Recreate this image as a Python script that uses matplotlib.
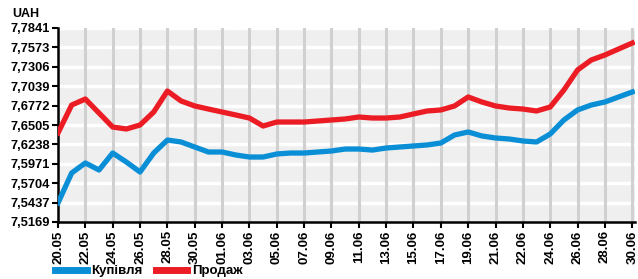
import matplotlib.pyplot as plt
from matplotlib.lines import Line2D

# tick labels (one label every second point)
dates = ["20.05", "22.05", "24.05", "26.05", "28.05", "30.05", "01.06", "03.06",
         "05.06", "07.06", "09.06", "11.06", "13.06", "15.06", "17.06", "19.06",
         "21.06", "22.06", "24.06", "26.06", "28.06", "30.06"]

yticks = [7.5169, 7.5437, 7.5704, 7.5971, 7.6238, 7.6505, 7.6772, 7.7039,
          7.7306, 7.7573, 7.7841]

buy = [7.5431, 7.5844, 7.5982, 7.5885, 7.6119, 7.5995, 7.5858, 7.6119, 7.6298,
       7.6271, 7.6202, 7.6133, 7.6133, 7.6092, 7.6064, 7.6064, 7.6106, 7.6119,
       7.6119, 7.6133, 7.6147, 7.6174, 7.6174, 7.6160, 7.6188, 7.6202, 7.6216,
       7.6230, 7.6257, 7.6367, 7.6409, 7.6354, 7.6326, 7.6312, 7.6285, 7.6271,
       7.6381, 7.6574, 7.6712, 7.6780, 7.6822, 7.6891, 7.6960]

sell = [7.6395, 7.6780, 7.6863, 7.6670, 7.6477, 7.6450, 7.6505, 7.6684, 7.6973,
        7.6836, 7.6767, 7.6725, 7.6684, 7.6643, 7.6601, 7.6491, 7.6546, 7.6546,
        7.6546, 7.6560, 7.6574, 7.6588, 7.6615, 7.6601, 7.6601, 7.6615, 7.6657,
        7.6698, 7.6712, 7.6767, 7.6891, 7.6822, 7.6767, 7.6739, 7.6725, 7.6698,
        7.6753, 7.6987, 7.7263, 7.7400, 7.7469, 7.7552, 7.7634]

BLUE = "#0a8fd6"
RED = "#ec1c24"
FONT = ["Liberation Sans", "DejaVu Sans"]

fig = plt.figure(figsize=(6.38, 2.79), dpi=100)
ax = fig.add_axes([58 / 638, 1 - 222 / 279, 577 / 638, 194 / 279])
ax.set_facecolor("#efefef")

x = list(range(len(buy)))
ax.plot(x, buy, color=BLUE, lw=3.8, solid_joinstyle="round", zorder=3)
ax.plot(x, sell, color=RED, lw=3.8, solid_joinstyle="round", zorder=3)

ax.set_xlim(0, 42.2)
ax.set_ylim(yticks[0], yticks[-1])

ax.set_xticks(range(0, 43, 2))
ax.set_xticklabels(dates, rotation=90, fontfamily=FONT, fontweight="bold", fontsize=9.5)
ax.set_yticks(yticks)
ax.set_yticklabels([f"{v:.4f}".replace(".", ",") for v in yticks],
                   fontfamily=FONT, fontweight="bold", fontsize=9.3)

for v in yticks[1:]:
    ax.axhline(v, color="white", lw=2.5, zorder=1)
for t in range(2, 43, 2):
    ax.axvline(t, color="#d0d0d0", lw=2.2, zorder=2)

for s in ["top", "right"]:
    ax.spines[s].set_visible(False)
for s in ["left", "bottom"]:
    ax.spines[s].set_linewidth(1.8)
ax.tick_params(axis="both", length=4, width=1.5, pad=2)

fig.text(12 / 638, 1 - 14 / 279, "UAH", fontfamily=FONT, fontweight="bold",
         fontsize=9, va="center", ha="left")

handles = [Line2D([], [], color=BLUE, lw=5), Line2D([], [], color=RED, lw=5)]
fig.legend(handles, ["Купівля", "Продаж"], loc="center left",
           bbox_to_anchor=(55 / 638, 1 - 271 / 279), ncol=2, frameon=False,
           borderpad=0, borderaxespad=0,
           handlelength=2.4, handletextpad=0.35, columnspacing=1.0,
           prop={"family": FONT, "weight": "bold", "size": 9.5})

fig.savefig("out.png", dpi=100)
